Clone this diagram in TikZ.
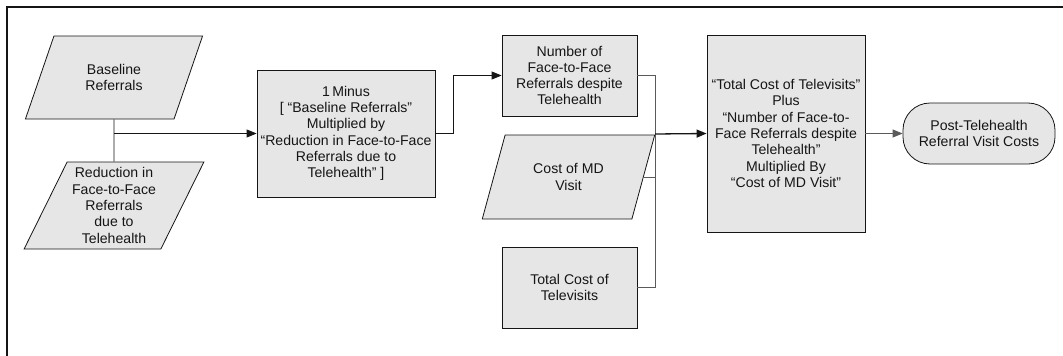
\documentclass[tikz,border=0pt]{standalone}
\usepackage{fontspec}
\setmainfont{Liberation Sans}
\usetikzlibrary{shapes.geometric,arrows.meta,calc}
\definecolor{boxfill}{HTML}{E6E6E6}
\definecolor{ink}{HTML}{151515}
\definecolor{wire}{HTML}{5A5A5A}
\begin{document}
\begin{tikzpicture}[x=1pt,y=-1pt,
  every node/.style={font=\fontsize{14.1}{16.3}\selectfont, text=ink, align=center, inner sep=0pt},
  box/.style={rectangle, draw=ink, line width=0.8pt, fill=boxfill},
  para/.style={trapezium, trapezium stretches=true, trapezium left angle=63, trapezium right angle=117,
               draw=ink, line width=0.8pt, fill=boxfill},
  terminal/.style={rectangle, rounded corners=27pt, draw=ink, line width=0.8pt, fill=boxfill},
  link/.style={draw=ink, line width=0.8pt},
  arrowlink/.style={link, -{Triangle[length=10pt,width=8pt]}},
  busline/.style={draw=wire, line width=0.8pt},
  mainarrow/.style={draw=ink, line width=1.3pt, -{Triangle[length=10pt,width=8pt]}},
  grayarrow/.style={draw=wire, line width=0.9pt, -{Triangle[length=10pt,width=8pt]}},
  frame/.style={draw=ink, line width=2.6pt}]

\useasboundingbox (0,0) rectangle (1063,356);

% open frame: top and left sides
\coordinate (fr1) at (1063,7);
\coordinate (fr2) at (7,7);
\coordinate (fr3) at (7,356);
\draw[frame] (fr1) -- (fr2) -- (fr3);

% inputs on the left
\node[para, minimum width=178pt, minimum height=83pt] (base) at (114,77.5) {Baseline\\Referrals};
\node[para, minimum width=180pt, minimum height=87pt] (red) at (114,205.5)
  {Reduction in\\Face-to-Face\\Referrals\\due to\\Telehealth};

% first calculation
\node[box, minimum width=178pt, minimum height=127pt] (minus) at (346,133.5)
  {1\,Minus\\{[} “Baseline Referrals”\\Multiplied by\\“Reduction in Face-to-Face\\Referrals due to\\Telehealth” ]};

% middle column
\node[box, minimum width=135pt, minimum height=81pt] (num) at (569.5,75.5)
  {Number of\\Face-to-Face\\Referrals despite\\Telehealth};
\node[para, trapezium left angle=64.5, trapezium right angle=115.5,
      minimum width=173pt, minimum height=84pt] (md) at (568.5,177) {Cost of MD\\Visit};
\node[box, minimum width=135pt, minimum height=81pt] (tot) at (569.5,287.5)
  {Total Cost of\\Televisits};

% final calculation and result
\node[box, minimum width=158pt, minimum height=197pt] (big) at (786,133.5)
  {“Total Cost of Televisits”\\Plus\\“Number of Face-to-\\Face Referrals despite\\Telehealth”\\Multiplied By\\“Cost of MD Visit”};
\node[terminal, minimum width=152pt, minimum height=61pt] (post) at (979,133.5)
  {Post-Telehealth\\Referral Visit Costs};

% connectors
\coordinate (j1) at (base.south |- minus.west);
\draw[link] (base.south) -- (red.north);
\draw[arrowlink] (j1) -- (minus.west);
\draw[arrowlink] (minus.east) -- ++(18,0) |- (num.west);

\coordinate (bus) at (655,134);
\coordinate (bustop) at (bus |- num.east);
\coordinate (busbot) at (bus |- tot.east);
\draw[busline] (num.east) -- (bustop) -- (busbot) -- (tot.east);
\draw[busline] (md.east) -- (md.east -| bus);
\draw[mainarrow] (bus) -- (big.west);
\draw[grayarrow] (big.east) -- (post.west);
\end{tikzpicture}
\end{document}
